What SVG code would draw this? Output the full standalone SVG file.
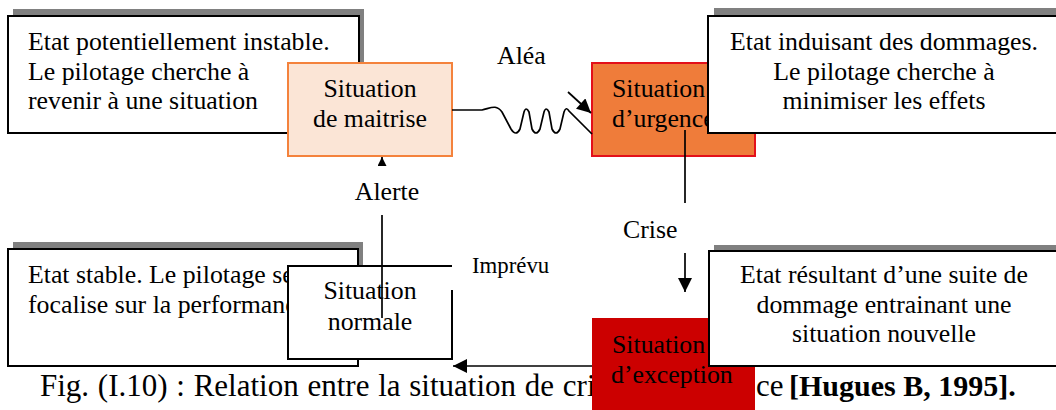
<svg xmlns="http://www.w3.org/2000/svg" width="1056" height="410" viewBox="0 0 1056 410">
<style>
text{font-family:"Liberation Serif","Times New Roman",serif;fill:#000}
.t{font-size:25.8px}
.m{text-anchor:middle}
.sh{fill:#808080}
.bx{fill:#fff;stroke:#000;stroke-width:2}
.ln{fill:none;stroke:#000;stroke-width:1.7}
.cap{font-size:31px}
</style>
<defs>
<marker id="ah" viewBox="0 0 10 10" refX="10" refY="5" markerWidth="15" markerHeight="14" markerUnits="userSpaceOnUse" orient="auto"><path d="M0,0L10,5L0,10z" fill="#000"/></marker>
<marker id="ahs" viewBox="0 0 10 10" refX="10" refY="5" markerWidth="9" markerHeight="9" markerUnits="userSpaceOnUse" orient="auto"><path d="M0,0L10,5L0,10z" fill="#000"/></marker>
</defs>
<g id="caption">
<text class="cap" x="40" y="396" word-spacing="1">Fig. (I.10) : Relation entre la situation de crise</text>
<text class="cap" y="396"><tspan x="756">ce</tspan><tspan x="789" font-weight="bold" font-size="30px">[Hugues B, 1995].</tspan></text>
</g>
<g id="note-maitrise">
<rect class="sh" x="13" y="9" width="351" height="117"/>
<rect class="bx" x="8" y="16" width="351" height="117"/>
<text class="t" x="28" y="50">Etat potentiellement instable.</text>
<text class="t" x="28" y="80">Le pilotage cherche à</text>
<text class="t" x="28" y="109">revenir à une situation</text>
</g>
<g id="situation-maitrise">
<rect x="288" y="63" width="164" height="93" fill="#FBE5D6" stroke="#F4823C" stroke-width="2"/>
<text class="t m" x="370" y="97">Situation</text>
<text class="t m" x="370" y="127">de maitrise</text>
</g>
<g id="situation-urgence">
<rect x="592" y="63" width="163" height="93" fill="#EF7C3A" stroke="#E3101A" stroke-width="2"/>
<text class="t" x="612" y="97">Situation</text>
<text class="t" x="612" y="127">d’urgence</text>
</g>
<g id="note-urgence">
<rect class="sh" x="714" y="8" width="360" height="117"/>
<rect class="bx" x="708" y="16" width="360" height="117"/>
<text class="t m" x="884" y="50">Etat induisant des dommages.</text>
<text class="t m" x="884" y="80">Le pilotage cherche à</text>
<text class="t m" x="884" y="109">minimiser les effets</text>
</g>
<g id="note-normale">
<rect class="sh" x="13" y="242" width="350" height="117"/>
<rect class="bx" x="8" y="249" width="350" height="117"/>
<text class="t" x="28" y="283">Etat stable. Le pilotage se</text>
<text class="t" x="28" y="313">focalise sur la performance.</text>
</g>
<g id="situation-normale">
<rect x="288" y="266" width="164" height="93" fill="#fff"/>
<path d="M452,290V359H288V266H452" fill="none" stroke="#000" stroke-width="2"/>
<text class="t m" x="370" y="299">Situation</text>
<text class="t m" x="370" y="330">normale</text>
</g>
<g id="situation-exception">
<rect x="592" y="318" width="163" height="100" fill="#CC0000"/>
<text class="t" x="612" y="353">Situation</text>
<text class="t" x="611" y="383">d’exception</text>
</g>
<g id="note-exception">
<rect class="sh" x="714" y="245" width="360" height="115"/>
<rect class="bx" x="709" y="251" width="360" height="115"/>
<text class="t m" x="884" y="283">Etat résultant d’une suite de</text>
<text class="t m" x="884" y="313">dommage entrainant une</text>
<text class="t m" x="884" y="342">situation nouvelle</text>
</g>
<g id="connectors">
<path class="ln" d="M452,110H482C491,108 496,104 502,112L511,129Q516,137 520,129L524,112Q526,106 529,112L532,129Q536,137 540,129L544,112Q546,106 549,112L552,129Q556,137 560,129L564,112Q566,106 569,111L592,134"/>
<line class="ln" x1="568" y1="92" x2="591" y2="113" marker-end="url(#ah)"/>
<line class="ln" x1="685" y1="130" x2="685" y2="203"/>
<line class="ln" x1="685" y1="253" x2="685" y2="292" marker-end="url(#ah)"/>
<line class="ln" x1="592" y1="366" x2="453" y2="366" marker-end="url(#ah)"/>
<line class="ln" x1="382" y1="318" x2="382" y2="215"/>
<line class="ln" x1="382" y1="165" x2="382" y2="157" marker-end="url(#ahs)"/>
<text class="t" x="497" y="64">Aléa</text>
<text class="t" x="623" y="238">Crise</text>
<text class="t m" x="387" y="200">Alerte</text>
<text x="472" y="273" font-size="22.8px">Imprévu</text>
</g>
</svg>
